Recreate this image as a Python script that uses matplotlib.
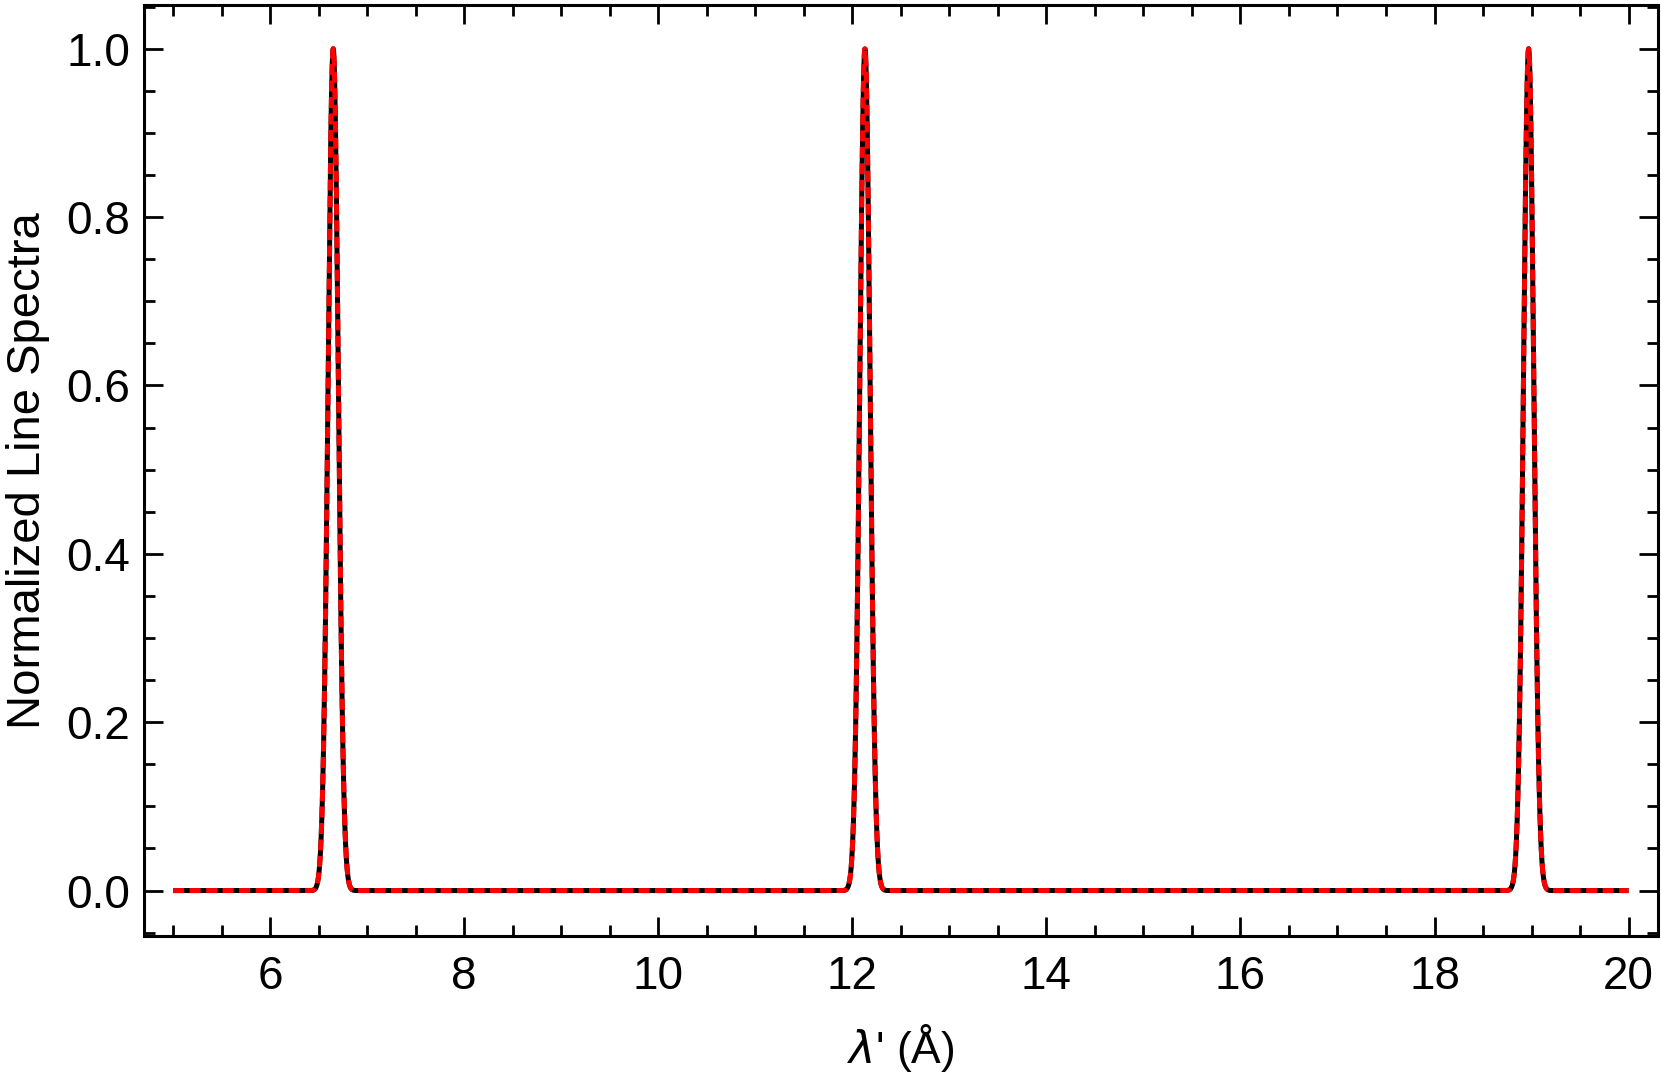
import numpy as np
import matplotlib.pyplot as plt
from matplotlib.ticker import MultipleLocator

# line centres (Angstrom), gaussian widths and peak heights
centers = [6.65, 12.13, 18.97]
sigmas = [0.053, 0.053, 0.053]
heights = [1.0, 1.0, 1.0]
wl_min, wl_max = 5.0, 20.0

wl = np.linspace(wl_min, wl_max, 6000)
spec = np.zeros_like(wl)
for c, s, h in zip(centers, sigmas, heights):
    spec += h * np.exp(-0.5 * ((wl - c) / s) ** 2)

plt.rcParams['font.family'] = ['Liberation Sans', 'DejaVu Sans']

fig = plt.figure(figsize=(16.61, 10.78), dpi=100)
ax = fig.add_axes([0.0867, 0.1317, 0.9113, 0.8637])

ax.plot(wl, spec, color='black', lw=3.6, solid_capstyle='butt')
ax.plot(wl, spec, color='red', lw=3.6, dashes=(2.2, 1.1))

ax.set_xlim(4.7, 20.3)
ax.set_ylim(-0.054, 1.052)

ax.xaxis.set_major_locator(MultipleLocator(2))
ax.xaxis.set_minor_locator(MultipleLocator(0.5))
ax.yaxis.set_major_locator(MultipleLocator(0.2))
ax.yaxis.set_minor_locator(MultipleLocator(0.05))
ax.set_xticks(np.arange(6, 21, 2))
ax.set_xticklabels([str(v) for v in range(6, 21, 2)])
ax.set_yticks(np.arange(0, 1.01, 0.2))
ax.set_yticklabels(['%.1f' % v for v in np.arange(0, 1.01, 0.2)])

ax.tick_params(which='both', direction='in', top=True, right=True, width=2, labelsize=33)
ax.tick_params(axis='x', pad=14)
ax.tick_params(axis='y', pad=10)
ax.tick_params(which='major', length=14)
ax.tick_params(which='minor', length=8)
for sp in ax.spines.values():
    sp.set_linewidth(2.2)

ax.set_xlabel(r"$\lambda$' (Å)", fontsize=32, labelpad=16)
ax.set_ylabel('Normalized Line Spectra', fontsize=34, labelpad=12)

fig.savefig('out.png', dpi=100)
